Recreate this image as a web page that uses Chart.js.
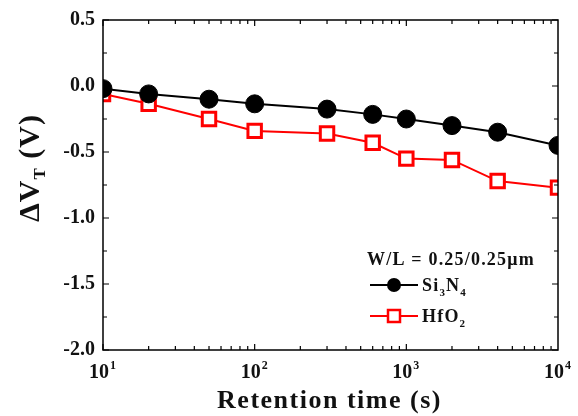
<!DOCTYPE html>
<html>
<head>
<meta charset="utf-8">
<script src="https://cdn.jsdelivr.net/npm/chart.js@4"></script>
<style>
  html, body { margin: 0; padding: 0; background: #fff; }
  #wrap { width: 578px; height: 416px; }
</style>
</head>
<body>
<div id="wrap"><canvas id="myChart"></canvas></div>
<script>
// retention data
const times = [10, 20, 50, 100, 300, 600, 1000, 2000, 4000, 10000]
const si3n4 = [-0.02, -0.06, -0.10, -0.135, -0.175, -0.215, -0.25, -0.30, -0.35, -0.45]
const hfo2 = [-0.06, -0.135, -0.25, -0.34, -0.36, -0.43, -0.55, -0.56, -0.72, -0.77]
const xDecades = [10, 100, 1000, 10000]

const serif = '"Liberation Serif", "Times New Roman", serif'
const textColor = '#111'

// clip the markers to the plot box like the original
const clipBox = {
    id: 'clipBox',
    beforeDatasetsDraw(chart) {
        const a = chart.chartArea
        chart.ctx.save()
        chart.ctx.beginPath()
        chart.ctx.rect(a.left, a.top, a.right - a.left, a.bottom - a.top)
        chart.ctx.clip()
    },
    afterDatasetsDraw(chart) {
        chart.ctx.restore()
    }
}

// frame, inward ticks, custom labels and legend
const decor = {
    id: 'decor',
    afterDraw(chart) {
        const ctx = chart.ctx
        const a = chart.chartArea
        const xs = chart.scales.x
        const ys = chart.scales.y
        ctx.save()
        ctx.strokeStyle = '#000'
        ctx.lineWidth = 1.5
        ctx.strokeRect(a.left, a.top, a.right - a.left, a.bottom - a.top)

        ctx.lineWidth = 1.2
        ctx.beginPath()
        // x ticks (major + minor on log scale)
        for (let d = 10; d < 10000; d *= 10) {
            for (let m = 1; m < 10; m++) {
                const px = xs.getPixelForValue(d * m)
                const len = m === 1 ? 6 : 4
                ctx.moveTo(px, a.bottom); ctx.lineTo(px, a.bottom - len)
                ctx.moveTo(px, a.top); ctx.lineTo(px, a.top + len)
            }
        }
        // y ticks every 0.25
        for (let v = -2.0; v <= 0.5001; v += 0.25) {
            const py = ys.getPixelForValue(v)
            const major = Math.abs(v * 2 - Math.round(v * 2)) < 1e-6
            const len = major ? 6 : 4
            ctx.moveTo(a.left, py); ctx.lineTo(a.left + len, py)
            ctx.moveTo(a.right, py); ctx.lineTo(a.right - len, py)
        }
        ctx.stroke()

        ctx.fillStyle = textColor
        // x tick labels 10^n
        ctx.textBaseline = 'alphabetic'
        xDecades.forEach(v => {
            const px = xs.getPixelForValue(v)
            const exp = String(Math.round(Math.log10(v)))
            ctx.font = 'bold 20px ' + serif
            const w1 = ctx.measureText('10').width
            ctx.font = 'bold 12px ' + serif
            const w2 = ctx.measureText(exp).width
            const x0 = px - (w1 + w2) / 2 - 1
            ctx.font = 'bold 20px ' + serif
            ctx.textAlign = 'left'
            ctx.fillText('10', x0, a.bottom + 28)
            ctx.font = 'bold 12px ' + serif
            ctx.fillText(exp, x0 + w1 + 1, a.bottom + 19)
        })

        // x axis title
        ctx.font = 'bold 26px ' + serif
        ctx.letterSpacing = '1.5px'
        ctx.textAlign = 'center'
        ctx.textBaseline = 'middle'
        ctx.fillText('Retention time (s)', (a.left + a.right) / 2 - 1, a.bottom + 51)

        // y axis title with subscript
        ctx.save()
        ctx.letterSpacing = '1px'
        ctx.translate(30, (a.top + a.bottom) / 2 - 17)
        ctx.rotate(-Math.PI / 2)
        ctx.textBaseline = 'alphabetic'
        const parts = [['\u0394V', 30, 0], ['T', 17, 6], [' (V)', 30, 0]]
        let tw = 0
        parts.forEach(p => { ctx.font = 'bold ' + p[1] + 'px ' + serif; tw += ctx.measureText(p[0]).width })
        let cx = -tw / 2
        ctx.textAlign = 'left'
        parts.forEach(p => {
            ctx.font = 'bold ' + p[1] + 'px ' + serif
            ctx.fillText(p[0], cx, 9 + p[2])
            cx += ctx.measureText(p[0]).width
        })
        ctx.restore()

        // legend
        const lx = a.left + 264
        ctx.letterSpacing = '1.2px'
        ctx.font = 'bold 18px ' + serif
        ctx.textAlign = 'left'
        ctx.textBaseline = 'alphabetic'
        ctx.fillText('W/L = 0.25/0.25\u03bcm', lx, a.top + 245)

        const drawSub = (segs, x, y) => {
            segs.forEach(s => {
                ctx.font = 'bold ' + (s[1] ? 11 : 18) + 'px ' + serif
                ctx.fillText(s[0], x, y + (s[1] ? 5 : 0))
                x += ctx.measureText(s[0]).width
            })
        }
        const rows = [
            { y: a.top + 265, color: '#000', label: [['Si', 0], ['3', 1], ['N', 0], ['4', 1]], circle: true },
            { y: a.top + 296, color: '#ff0000', label: [['HfO', 0], ['2', 1]], circle: false }
        ]
        rows.forEach(r => {
            ctx.strokeStyle = r.color
            ctx.lineWidth = 2
            ctx.beginPath()
            ctx.moveTo(lx + 3, r.y); ctx.lineTo(lx + 51, r.y)
            ctx.stroke()
            if (r.circle) {
                ctx.fillStyle = '#000'
                ctx.beginPath()
                ctx.arc(lx + 27, r.y, 7, 0, Math.PI * 2)
                ctx.fill()
            } else {
                ctx.fillStyle = '#fff'
                ctx.lineWidth = 2.5
                ctx.fillRect(lx + 21, r.y - 6, 12, 12)
                ctx.strokeRect(lx + 21, r.y - 6, 12, 12)
            }
            ctx.fillStyle = textColor
            drawSub(r.label, lx + 55, r.y + 6)
        })
        ctx.restore()
    }
}

const pts = (ys) => times.map((t, i) => ({ x: t, y: ys[i] }))

let myChart = document.querySelector('#myChart').getContext('2d')
let retention = new Chart(myChart, {
    type: 'line',
    data: {
        datasets: [{
            label: 'Si3N4',
            data: pts(si3n4),
            borderColor: '#000',
            borderWidth: 2,
            backgroundColor: '#000',
            pointStyle: 'circle',
            pointRadius: 9,
            pointBorderWidth: 1,
            tension: 0,
            clip: 0
        }, {
            label: 'HfO2',
            data: pts(hfo2),
            borderColor: '#ff0000',
            borderWidth: 2,
            backgroundColor: '#fff',
            pointStyle: 'rect',
            pointRadius: 9.5,
            pointBorderWidth: 3,
            tension: 0,
            clip: 0
        }]
    },
    options: {
        responsive: true,
        maintainAspectRatio: false,
        animation: false,
        layout: { padding: { top: 17, right: 20, left: 0, bottom: 0 } },
        plugins: { legend: { display: false }, tooltip: { enabled: false } },
        scales: {
            x: {
                type: 'logarithmic',
                min: 10,
                max: 10000,
                grid: { display: false, drawTicks: false },
                border: { display: false },
                ticks: { display: false },
                afterFit(scale) { scale.height = 66 }
            },
            y: {
                min: -2.0,
                max: 0.5,
                grid: { display: false, drawTicks: false },
                border: { display: false },
                ticks: {
                    stepSize: 0.5,
                    padding: 8,
                    color: textColor,
                    font: { family: serif, size: 20, weight: 'bold' },
                    callback: v => v.toFixed(1)
                },
                afterFit(scale) { scale.width = 103 }
            }
        }
    },
    plugins: [clipBox, decor]
});
</script>
</body>
</html>
